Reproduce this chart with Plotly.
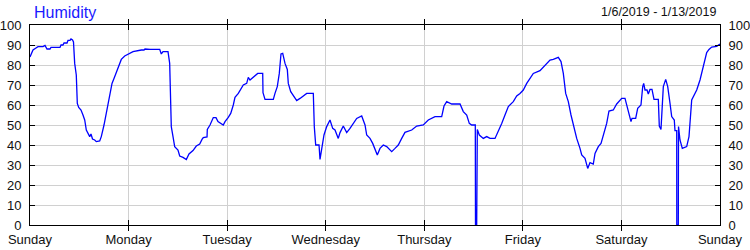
import plotly.graph_objects as go

# Hours since Sunday 00:00 (2019-01-06) and relative humidity (%)
hours = [
    0, 0.32, 0.73, 1.46, 1.95, 3.17, 3.65, 4.14, 4.87, 5.11, 7.30, 7.55, 8.03, 8.28, 9.01, 9.25,
    9.74, 9.98, 10.35, 10.59, 10.88, 11.27, 11.44, 11.52, 11.86, 12.42, 12.90, 13.32, 13.71, 14.12,
    14.54, 14.85, 15.22, 15.75, 16.14, 16.97, 17.36, 18.02, 18.58, 18.99, 19.41, 19.97, 20.45, 21.01,
    21.60, 22.23, 23.06, 23.86, 25.08, 27.10, 27.76, 28.00, 29.22, 31.58, 31.97, 32.38, 33.60, 34.01,
    34.26, 34.40, 34.82, 35.23, 36.03, 36.45, 37.25, 38.06, 38.71, 39.69, 40.49, 41.32, 41.88, 42.19,
    43.10, 43.17, 43.83, 44.63, 45.29, 45.77, 47.06, 47.48, 48.28, 48.87, 49.50, 49.91, 50.72, 51.13,
    51.93, 52.76, 53.15, 53.57, 54.37, 55.44, 56.66, 56.73, 57.22, 59.24, 59.65, 60.21, 60.70, 61.11,
    61.53, 62.09, 62.65, 62.89, 63.48, 64.11, 64.94, 65.74, 67.37, 68.98, 69.22, 69.56, 70.37, 70.61,
    71.02, 71.58, 72.24, 73.04, 73.70, 74.26, 75.06, 75.48, 76.28, 77.11, 77.91, 78.72, 79.54, 80.76,
    81.57, 81.98, 82.78, 83.44, 84.00, 84.56, 85.22, 86.02, 86.85, 88.07, 88.87, 89.67, 90.50, 91.30,
    92.94, 94.15, 95.76, 96.98, 98.61, 100.24, 100.80, 101.46, 102.68, 104.70, 105.50, 106.33, 106.96,
    107.54, 108.42, 108.47, 108.76, 108.91, 109.40, 110.37, 111.20, 112.00, 113.22, 114.02, 114.85,
    115.65, 116.46, 117.67, 118.50, 119.30, 120.11, 120.94, 122.54, 124.17, 125.81, 126.61, 127.41,
    128.63, 129.29, 129.85, 130.43, 131.07, 131.72, 132.53, 133.11, 133.91, 134.33, 135.13, 135.79,
    136.35, 137.15, 137.57, 138.37, 139.03, 139.59, 140.41, 140.97, 142.02, 142.85, 144.07, 144.87,
    145.28, 145.84, 146.33, 146.57, 147.47, 147.96, 148.76, 149.18, 149.42, 149.74, 150.23, 150.54,
    150.96, 151.44, 151.93, 152.98, 153.22, 153.63, 153.95, 154.20, 154.78, 155.27, 155.83, 156.24,
    156.87, 157.04, 157.46, 157.48, 157.85, 157.90, 158.26, 158.82, 159.89, 160.45, 161.11, 161.74,
    162.33, 163.13, 163.93, 164.76, 165.32, 165.98, 167.20, 168.00,
]
humidity = [
    84, 86, 87.5, 88.5, 89.2, 89.2, 89.8, 88, 88, 88.8, 88.8, 90, 90, 91, 91, 92.3,
    92.3, 93, 92.5, 91.5, 80.8, 75, 68, 60.8, 58.8, 57.5, 55, 52.5, 47.5, 46,
    44.2, 45.5, 43, 42.5, 41.7, 42, 44.2, 50, 55.8, 60.8, 65.8, 70.8, 73.3, 76.2,
    80, 82.8, 84.5, 85.5, 86.7, 87.5, 87.5, 88, 87.8, 87.8, 85.5, 86.7, 86.7, 80.8,
    64.2, 49.2, 44.2, 39.2, 37.5, 34.5, 33.8, 32.7, 35.5, 37.2, 39.5, 40.5, 42.8, 43.7,
    44, 47.8, 50, 53.7, 53.7, 51.7, 50, 51.7, 53.8, 55.8, 60, 63.8, 65.8, 67.5,
    70, 70.8, 73.8, 72.5, 73.8, 75.8, 75.8, 66.2, 62.8, 62.8, 65.8, 69.2, 75.8, 85.5,
    85.8, 80.8, 77.8, 70.8, 66.7, 65, 62.2, 63.3, 65.8, 65.8, 49.2, 40, 40, 32.8,
    37.5, 45, 49.2, 52.5, 48.3, 47.5, 43.3, 46.2, 49.5, 46.2, 48.3, 50.8, 53.3, 54.5,
    50, 45, 43.3, 40.8, 37.5, 35, 38.3, 40, 39.2, 36.7, 38.3, 40, 43.3, 46.3,
    47.5, 49.5, 50, 52.5, 54.2, 54.2, 59.5, 61.7, 60.5, 60.5, 56.7, 55, 50.8,
    50, 50, 0, 0, 47.8, 45, 43.3, 44.2, 43.3, 43.3, 46.7, 50.8,
    55, 59.2, 61.7, 64.5, 65.8, 67.5, 70.8, 75.8, 77.2, 80.8, 82.5, 82.8,
    83.8, 81.7, 75.8, 65.8, 61.7, 55, 47.5, 43.3, 38.3, 35, 33.3, 28.3,
    31.2, 30.5, 35.8, 39.2, 40.8, 45, 50.8, 57, 57.5, 60.5, 63.3, 63.3,
    60, 56.7, 51.7, 53.3, 53.3, 58.3, 60, 69.2, 70.8, 67.5, 67.5, 65.5,
    67.8, 67.8, 62.8, 62.8, 49.5, 47.8, 59.2, 69.2, 72.8, 69.2, 60.8, 54.2,
    52.5, 47.2, 47.2, 0, 0, 49.2, 42.5, 38.3, 39.2, 44.2, 62.5, 65,
    67.5, 72.5, 80, 86.2, 87.8, 89, 89.3, 90.5,
]

day_ticks = [0, 24, 48, 72, 96, 120, 144, 168]
day_labels = ["Sunday", "Monday", "Tuesday", "Wednesday", "Thursday", "Friday", "Saturday", "Sunday"]
y_ticks = [0, 10, 20, 30, 40, 50, 60, 70, 80, 90, 100]

title_text = "Humidity"
date_range_text = "1/6/2019 - 1/13/2019"

FONT = "Liberation Sans, Arial, sans-serif"
GRID = "#d0d0d0"

fig = go.Figure()
fig.add_trace(go.Scatter(x=hours, y=humidity, mode="lines",
                         line=dict(color="#0000ff", width=1.3),
                         showlegend=False, hoverinfo="skip"))
# invisible twin so the right-hand axis is drawn
fig.add_trace(go.Scatter(x=hours, y=humidity, mode="lines", yaxis="y2",
                         line=dict(color="rgba(0,0,0,0)", width=0),
                         showlegend=False, hoverinfo="skip"))

axis_common = dict(showline=True, linecolor="black", linewidth=1,
                   ticks="inside", ticklen=5, tickcolor="black", tickwidth=1,
                   zeroline=False, automargin=False,
                   tickfont=dict(family=FONT, size=13, color="#111111"))

fig.update_layout(
    width=750, height=250,
    margin=dict(l=30, r=30, t=25, b=25, autoexpand=False),
    paper_bgcolor="white", plot_bgcolor="white",
    xaxis=dict(range=[0, 168], tickvals=day_ticks, ticktext=day_labels,
               showgrid=True, gridcolor=GRID, gridwidth=1, mirror="allticks",
               ticklabelstandoff=2, **axis_common),
    yaxis=dict(range=[0, 100], tickvals=y_ticks, showgrid=True, gridcolor=GRID,
               gridwidth=1, mirror="allticks", ticklabelstandoff=5, **axis_common),
    yaxis2=dict(range=[0, 100], tickvals=y_ticks, overlaying="y", side="right",
                showgrid=False, ticklabelstandoff=5, **axis_common),
    annotations=[
        dict(text=title_text, xref="paper", yref="paper", x=0.003, y=1.065,
             xanchor="left", yanchor="middle", showarrow=False,
             font=dict(family="Liberation Sans Narrow, Arial Narrow, Liberation Sans, Arial",
                       size=16, color="#1a1aff")),
        dict(text=date_range_text, xref="paper", yref="paper", x=0.9971, y=1.065,
             xanchor="right", yanchor="middle", showarrow=False,
             font=dict(family=FONT, size=12.5, color="#111111")),
    ],
)

fig.write_html("out.html")
